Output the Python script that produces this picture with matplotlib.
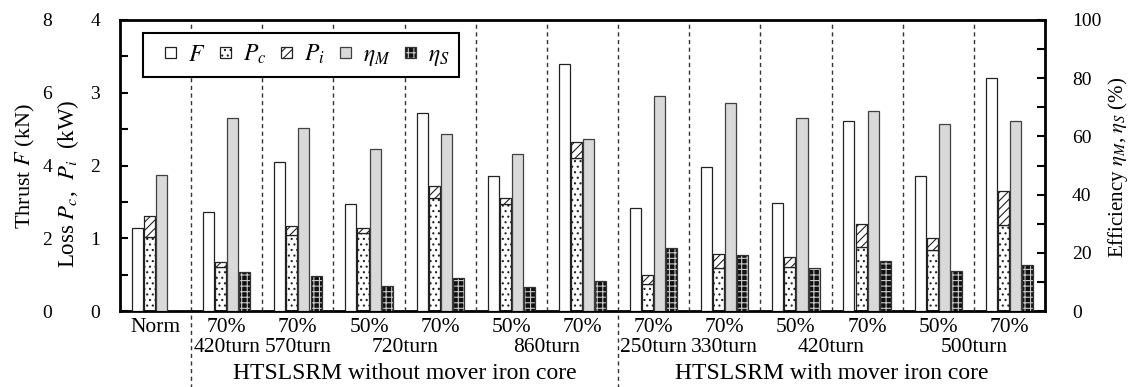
import matplotlib
matplotlib.use('Agg')
import numpy as np
from matplotlib import pyplot as plt
import matplotlib.patches as mpatches
import matplotlib.transforms as mtransforms
from matplotlib.legend_handler import HandlerPatch

plt.rcParams['font.family'] = 'Liberation Serif'
plt.rcParams['mathtext.fontset'] = 'stix'
plt.rcParams['hatch.linewidth'] = 0.8

# labels under the groups
group_top = ['Norm', '70%', '70%', '50%', '70%', '50%', '70%',
             '70%', '70%', '50%', '70%', '50%', '70%']
turn_labels = ['420turn', '570turn', '720turn', '860turn',
               '250turn', '330turn', '420turn', '500turn']
turn_pos = [1, 2, 3.5, 5.5, 7, 8, 9.5, 11.5]
section_labels = ['HTSLSRM without mover iron core', 'HTSLSRM with mover iron core']
section_pos = [3.5, 9.5]

# values
thrust = [2.29, 2.71, 4.10, 2.93, 5.43, 3.70, 6.78, 2.82, 3.97, 2.98, 5.21, 3.72, 6.41]   # kN
loss_c = [1.02, 0.61, 1.04, 1.07, 1.56, 1.47, 2.10, 0.37, 0.59, 0.61, 0.88, 0.84, 1.18]   # kW
loss_i = [0.29, 0.06, 0.13, 0.07, 0.16, 0.09, 0.22, 0.12, 0.20, 0.13, 0.31, 0.17, 0.47]   # kW
eff_m = [46.8, 66.2, 63.0, 55.7, 60.9, 54.1, 59.1, 74.0, 71.5, 66.2, 68.6, 64.4, 65.3]     # %
eff_s = [np.nan, 13.5, 11.9, 8.6, 11.2, 8.4, 10.4, 21.5, 19.4, 14.8, 17.3, 13.9, 15.8]    # %

W = 1130
H = 387
fig = plt.figure(figsize=(W / 100, H / 100), dpi=100)
ax = fig.add_axes([120 / W, 1 - 311 / H, 925 / W, 291 / H])
ax_f = ax.twinx()
ax_e = ax.twinx()

x = np.arange(len(group_top))
bw = 0.155
edge = '#222222'

ax_f.bar(x - 0.255, thrust, bw, facecolor='white', edgecolor=edge, linewidth=0.9)
ax.bar(x - 0.085, loss_c, bw, facecolor='white', edgecolor=edge, linewidth=0.9, hatch='...')
ax.bar(x - 0.085, loss_i, bw, bottom=loss_c, facecolor='white', edgecolor=edge,
       linewidth=0.9, hatch='////')
ax_e.bar(x + 0.085, eff_m, bw, facecolor='#d9d9d9', edgecolor='#404040', linewidth=0.9)
es = np.array(eff_s)
ok = np.isfinite(es)
ax_e.bar(x[ok] + 0.255, es[ok], bw, facecolor='#111111', edgecolor='#c8c8c8',
         linewidth=0, hatch='+++')
ax_e.bar(x[ok] + 0.255, es[ok], bw, facecolor='none', edgecolor='#333333', linewidth=0.9)

# axes / ticks
ax.set_xlim(-0.5, len(group_top) - 0.5)
ax.set_xticks([])
ax.set_ylim(0, 4)
ax.set_yticks([0, 1, 2, 3, 4])
ax.set_yticks(np.arange(0, 4.01, 0.5), minor=True)
ax.tick_params(axis='y', which='both', direction='in', length=6, width=1.5,
               labelsize=14, pad=14.4)
for s in ax.spines.values():
    s.set_linewidth(2)

ax_f.set_ylim(0, 8)
ax_f.yaxis.tick_left()
ax_f.set_yticks([0, 2, 4, 6, 8])
ax_f.tick_params(axis='y', length=0, labelsize=14, pad=49)
for s in ax_f.spines.values():
    s.set_visible(False)

ax_e.set_ylim(0, 100)
ax_e.set_yticks(np.arange(0, 101, 20))
ax_e.set_yticks(np.arange(0, 101, 10), minor=True)
ax_e.tick_params(axis='y', which='both', direction='in', length=6, width=1.5,
                 labelsize=14, pad=19.5)
for s in ax_e.spines.values():
    s.set_visible(False)

# group separators
for b in np.arange(0.5, len(group_top) - 0.5):
    ax.axvline(b, color='#333333', linewidth=1, linestyle=(0, (3, 2.5)), zorder=0.5)
for b in [0.5, 6.5]:
    ax.axvline(b, ymin=-0.27, ymax=0, color='#333333', linewidth=1,
               linestyle=(0, (3, 2.5)), clip_on=False)

trans = mtransforms.blended_transform_factory(ax.transData, ax.transAxes)
for i, lab in enumerate(group_top):
    ax.text(i, -0.055, lab, transform=trans, ha='center', va='center', fontsize=15.5)
for p, lab in zip(turn_pos, turn_labels):
    ax.text(p, -0.127, lab, transform=trans, ha='center', va='center', fontsize=15.5)
for p, lab in zip(section_pos, section_labels):
    ax.text(p, -0.215, lab, transform=trans, ha='center', va='center', fontsize=17)

fig.text(25 / W, 1 - 166 / H, 'Thrust $F$ (kN)', rotation=90, ha='center', va='center', fontsize=16)
fig.text(68 / W, 1 - 184 / H, 'Loss $P_c$,  $P_i$  (kW)', rotation=90, ha='center', va='center',
         fontsize=16.5)
fig.text(1118 / W, 1 - 167 / H, 'Efficiency $\\eta_M$, $\\eta_S$ (%)', rotation=90,
         ha='center', va='center', fontsize=15)


# small square legend keys centred in a wider handle box
def square_key(legend, orig_handle, xdescent, ydescent, width, height, fontsize):
    s = 8
    return mpatches.Rectangle((-xdescent + (width - s) / 2, -ydescent + (height - s) / 2), s, s)


h_f = mpatches.Patch(facecolor='white', edgecolor=edge, linewidth=0.9)
h_c = mpatches.Patch(facecolor='white', edgecolor=edge, linewidth=0.9, hatch='...')
h_i = mpatches.Patch(facecolor='white', edgecolor=edge, linewidth=0.9, hatch='////')
h_m = mpatches.Patch(facecolor='#d9d9d9', edgecolor='#404040', linewidth=0.9)
h_s1 = mpatches.Patch(facecolor='#111111', edgecolor='#c8c8c8', linewidth=0, hatch='+++')
h_s2 = mpatches.Patch(facecolor='none', edgecolor='#333333', linewidth=0.9)
leg = ax_e.legend([h_f, h_c, h_i, h_m, (h_s1, h_s2)],
                  ['$F$', '$P_c$', '$P_i$', '$\\eta_M$', '$\\eta_S$'],
                  handler_map={mpatches.Patch: HandlerPatch(patch_func=square_key)},
                  loc='upper left', bbox_to_anchor=(0.025, 0.955), borderaxespad=0,
                  ncol=5, fontsize=17, frameon=True, fancybox=False, framealpha=1,
                  edgecolor='black', handlelength=1.5, handleheight=0.7,
                  handletextpad=0.0, columnspacing=0.1, borderpad=0.4)
leg.get_frame().set_linewidth(1.5)
leg.set_zorder(10)

fig.savefig('out.png', dpi=100)
